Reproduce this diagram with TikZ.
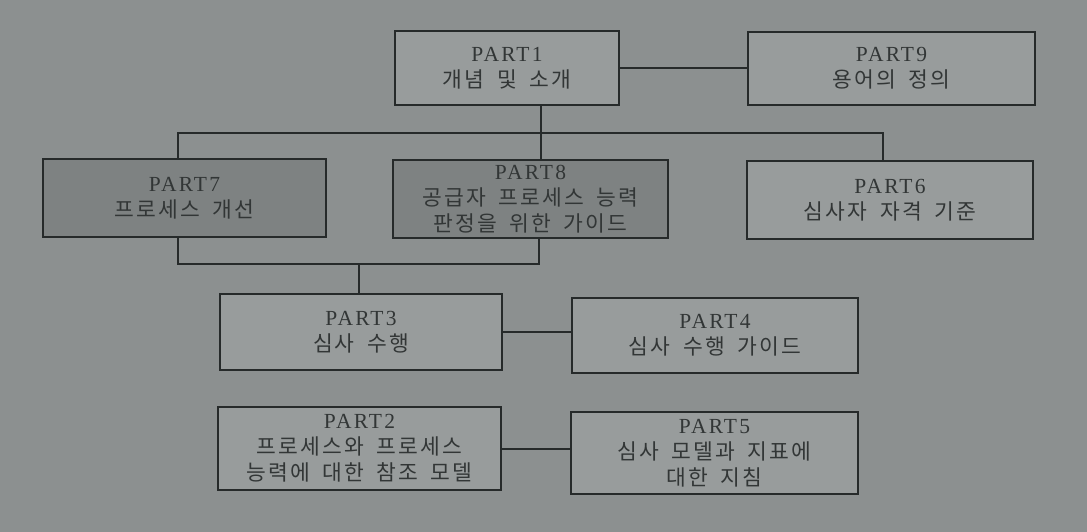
\documentclass[tikz,border=0pt]{standalone}
\usepackage{fontspec}
\newfontfamily\kfont[LetterSpace=10,WordSpace=1.8]{Noto Sans CJK KR}
\newfontfamily\pfontraw[LetterSpace=10]{Liberation Serif}
\newcommand{\pfont}{\pfontraw\fontsize{21.5}{26}\selectfont}
\definecolor{bgc}{RGB}{140,144,144}
\definecolor{lightfill}{RGB}{152,156,156}
\definecolor{darkfill}{RGB}{126,130,130}
\definecolor{linec}{RGB}{38,42,42}
\definecolor{textc}{RGB}{50,54,54}
\tikzset{
  box/.style={draw=linec, line width=1.6pt, fill=lightfill, align=center,
    text=textc, inner sep=0pt, font=\fontsize{21.5}{26}\selectfont},
  darkbox/.style={box, fill=darkfill},
  conn/.style={draw=linec, line width=2pt}
}
\begin{document}
\begin{tikzpicture}[x=1pt,y=-1pt]
\fill[bgc] (0,0) rectangle (1087,532);
\useasboundingbox (0,0) rectangle (1087,532);

\node[box, minimum width=224pt, minimum height=74pt] (p1) at (507,68)
  {{\pfont PART1}\\{\kfont 개념 및 소개}};
\node[box, minimum width=287pt, minimum height=73pt] (p9) at (891.5,68.5)
  {{\pfont PART9}\\{\kfont 용어의 정의}};
\node[darkbox, minimum width=283pt, minimum height=78pt] (p7) at (184.5,198)
  {{\pfont PART7}\\{\kfont 프로세스 개선}};
\node[darkbox, minimum width=275pt, minimum height=78pt] (p8) at (530.5,199)
  {{\pfont PART8}\\{\kfont 공급자 프로세스 능력}\\{\kfont 판정을 위한 가이드}};
\node[box, minimum width=286pt, minimum height=78pt] (p6) at (890,200)
  {{\pfont PART6}\\{\kfont 심사자 자격 기준}};
\node[box, minimum width=282pt, minimum height=76pt] (p3) at (361,332)
  {{\pfont PART3}\\{\kfont 심사 수행}};
\node[box, minimum width=286pt, minimum height=75pt] (p4) at (715,335.5)
  {{\pfont PART4}\\{\kfont 심사 수행 가이드}};
\node[box, minimum width=283pt, minimum height=83pt] (p2) at (359.5,448.5)
  {{\pfont PART2}\\{\kfont 프로세스와 프로세스}\\{\kfont 능력에 대한 참조 모델}};
\node[box, minimum width=287pt, minimum height=82pt] (p5) at (714.5,453)
  {{\pfont PART5}\\{\kfont 심사 모델과 지표에}\\{\kfont 대한 지침}};

\coordinate (busL) at (178,133);
\coordinate (busR) at (883,133);
\coordinate (busM) at (541,133);
\coordinate (lowL) at (178,264);
\coordinate (lowR) at (539,264);
\coordinate (lowM) at (359,264);

\draw[conn] (p1.east) -- (p9.west |- p1.east);
\draw[conn] (p1.south -| busM) -- (p8.north -| busM);
\draw[conn] (p7.north -| busL) -- (busL) -- (busR) -- (p6.north -| busR);
\draw[conn] (p7.south -| lowL) -- (lowL) -- (lowR) -- (p8.south -| lowR);
\draw[conn] (lowM) -- (p3.north -| lowM);
\draw[conn] (p3.east) -- (p4.west |- p3.east);
\draw[conn] (p2.east) -- (p5.west |- p2.east);
\end{tikzpicture}
\end{document}
